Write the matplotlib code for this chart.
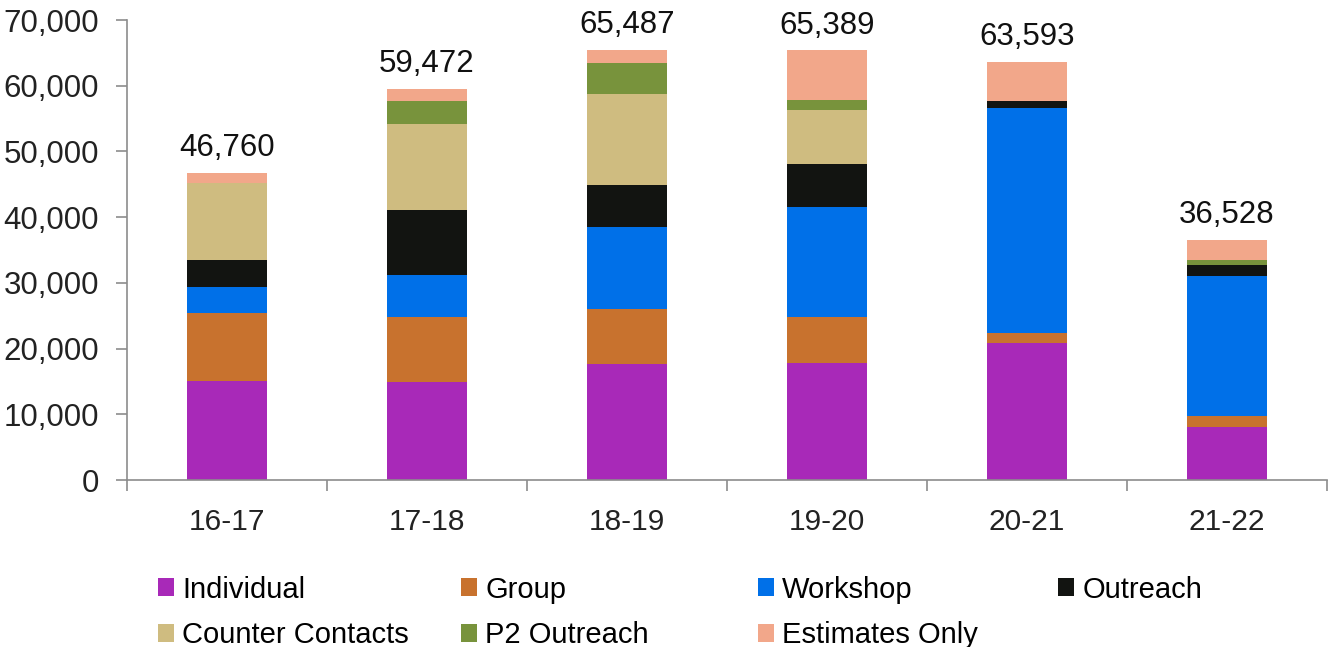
import matplotlib
matplotlib.use("Agg")
import matplotlib.pyplot as plt
from matplotlib.patches import Patch
from matplotlib.ticker import FuncFormatter
import numpy as np

plt.rcParams.update({
    'font.family': ['Liberation Sans', 'DejaVu Sans'],
    'font.size': 21,
})

# ── Data ──────────────────────────────────────────────────────────
YEARS = ["16-17", "17-18", "18-19", "19-20", "20-21", "21-22"]
TOTALS = [46760, 59472, 65487, 65389, 63593, 36528]

INDIVIDUAL = [15100, 14900, 17600, 17850, 20900, 8000]
GROUP      = [10350, 9900, 8450, 7000, 1400, 1700]
WORKSHOP   = [3900, 6400, 12400, 16750, 34300, 21300]
OUTREACH   = [4200, 9950, 6400, 6450, 1100, 1700]
COUNTER    = [11570, 13000, 13900, 8200, 0, 0]
P2_OUTREACH = [0, 3500, 4700, 1600, 0, 800]
ESTIMATES  = [1640, 1822, 2037, 7539, 5893, 3028]

SERIES = [
    ("Individual", INDIVIDUAL, "#A829B8"),
    ("Group", GROUP, "#C8722E"),
    ("Workshop", WORKSHOP, "#0070E8"),
    ("Outreach", OUTREACH, "#121411"),
    ("Counter Contacts", COUNTER, "#CFBC80"),
    ("P2 Outreach", P2_OUTREACH, "#78933C"),
    ("Estimates Only", ESTIMATES, "#F2A78A"),
]

# ── Figure ────────────────────────────────────────────────────────
fig = plt.figure(figsize=(13.3, 6.47), dpi=100)
ax = fig.add_axes([127 / 1330, 1 - 480 / 647, 1200 / 1330, 460 / 647])

x = np.arange(len(YEARS))
bottom = np.zeros(len(YEARS))
for name, vals, color in SERIES:
    vals = np.array(vals, dtype=float)
    ax.bar(x, vals, width=0.4, bottom=bottom, color=color, linewidth=0)
    bottom += vals

for xi, total in zip(x, TOTALS):
    ax.annotate(f"{total:,}", (xi, total), xytext=(0, 7),
                textcoords="offset points", ha="center", va="bottom",
                fontsize=22.5, color="#111111")

ax.set_xlim(-0.5, len(YEARS) - 0.5)
ax.set_ylim(0, 70000)
ax.set_yticks(np.arange(0, 70001, 10000))
ax.yaxis.set_major_formatter(FuncFormatter(lambda v, p: f"{int(v):,}"))
ax.set_xticks(x)
ax.set_xticklabels(YEARS)
ax.set_xticks(np.arange(-0.5, len(YEARS)), minor=True)

for s in ("top", "right"):
    ax.spines[s].set_visible(False)
for s in ("left", "bottom"):
    ax.spines[s].set_color("#8c8c8c")
    ax.spines[s].set_linewidth(1.2)

ax.tick_params(axis="y", length=8, width=1.2, color="#8c8c8c",
               labelsize=22.5, labelcolor="#222222", pad=12)
ax.tick_params(axis="x", which="major", length=0, labelsize=21.5,
               labelcolor="#222222", pad=20)
ax.tick_params(axis="x", which="minor", length=8, width=1.2, color="#8c8c8c")

# Legend, laid out as 4 fixed columns
handles = {name: Patch(facecolor=color, edgecolor="none") for name, _, color in SERIES}
columns = [["Individual", "Counter Contacts"], ["Group", "P2 Outreach"],
           ["Workshop", "Estimates Only"], ["Outreach"]]
col_x = [143, 446, 743, 1043]
for names, cx in zip(columns, col_x):
    fig.legend([handles[n] for n in names], names,
               loc="upper left", bbox_to_anchor=(cx / 1330, 1 - 561 / 647),
               frameon=False, ncol=1, handlelength=0.55, handleheight=0.55,
               handletextpad=0.3, labelspacing=0.6, borderpad=0,
               prop={"family": ["Liberation Sans Narrow", "Liberation Sans"],
                     "size": 21})

fig.savefig("out.png", dpi=100)
